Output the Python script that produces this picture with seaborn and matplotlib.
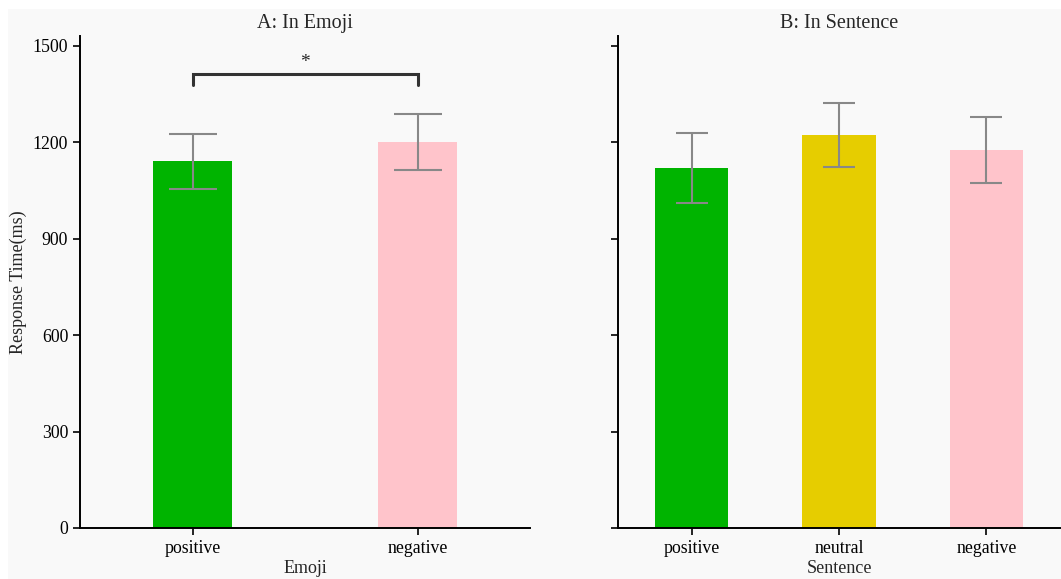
import numpy as np
import pandas as pd
import matplotlib
matplotlib.use('Agg')
import matplotlib.pyplot as plt
import seaborn as sns
from matplotlib.patches import Rectangle

# ─── Data ───────────────────────────────────────────────
emoji_cats  = ['positive', 'negative']
emoji_mean  = [1140, 1200]
emoji_err   = [86, 87]
emoji_cols  = ['#00b400', '#ffc4cb']

sent_cats   = ['positive', 'neutral', 'negative']
sent_mean   = [1120, 1222, 1175]
sent_err    = [108, 100, 102]
sent_cols   = ['#00b400', '#e6cd00', '#ffc4cb']

y_ticks = [0, 300, 600, 900, 1200, 1500]

# ─── Style ──────────────────────────────────────────────
sns.set_style('ticks')
plt.rcParams['font.family'] = ['Liberation Serif', 'DejaVu Serif']
BG = '#f9f9f9'

fig = plt.figure(figsize=(10.61, 5.79), dpi=100, facecolor='white')
fig.patches.append(Rectangle((8 / 1061, 0), 1, 1 - 9 / 579, transform=fig.transFigure,
                             facecolor=BG, edgecolor='none', zorder=-10))

bottom, top = 1 - 528 / 579, 1 - 36 / 579
axA = fig.add_axes([80 / 1061, bottom, 450 / 1061, top - bottom])
axB = fig.add_axes([618 / 1061, bottom, 442 / 1061, top - bottom], sharey=axA)


def draw_panel(ax, cats, means, errs, cols, width, capsize, title, xlabel):
    df = pd.DataFrame({'cond': cats, 'rt': means})
    sns.barplot(data=df, x='cond', y='rt', hue='cond', palette=cols,
                width=width, errorbar=None, legend=False, ax=ax,
                saturation=1, linewidth=0)
    ax.errorbar(np.arange(len(cats)), means, yerr=errs, fmt='none',
                ecolor='#888888', elinewidth=1.5, capsize=capsize, capthick=1.5)
    ax.set_facecolor(BG)
    ax.set_xlim(-0.5, len(cats) - 0.5)
    ax.set_title(title, fontsize=14.5, pad=6)
    ax.set_xlabel(xlabel, fontsize=13, labelpad=2)
    ax.tick_params(axis='both', labelsize=12.8, length=5, width=1.2, colors='black')
    for s in ['left', 'bottom']:
        ax.spines[s].set_linewidth(1.4)
        ax.spines[s].set_color('black')
    sns.despine(ax=ax)


draw_panel(axA, emoji_cats, emoji_mean, emoji_err, emoji_cols, 0.35, 17,
           'A: In Emoji', 'Emoji')
draw_panel(axB, sent_cats, sent_mean, sent_err, sent_cols, 0.5, 11.5,
           'B: In Sentence', 'Sentence')

axA.set_ylim(0, 1530)
axA.set_yticks(y_ticks)
axA.set_ylabel('Response Time(ms)', fontsize=13)
axB.set_ylabel('')
axB.tick_params(axis='y', labelleft=False)

# significance bracket
y_br, h_br = 1412, 33
axA.plot([0, 0, 1, 1], [y_br - h_br, y_br, y_br, y_br - h_br],
         color='#333333', lw=2.2, solid_joinstyle='miter')
axA.text(0.5, y_br + 10, '*', ha='center', va='bottom', fontsize=14)

plt.savefig('out.png', dpi=100, facecolor=fig.get_facecolor())
plt.close()
